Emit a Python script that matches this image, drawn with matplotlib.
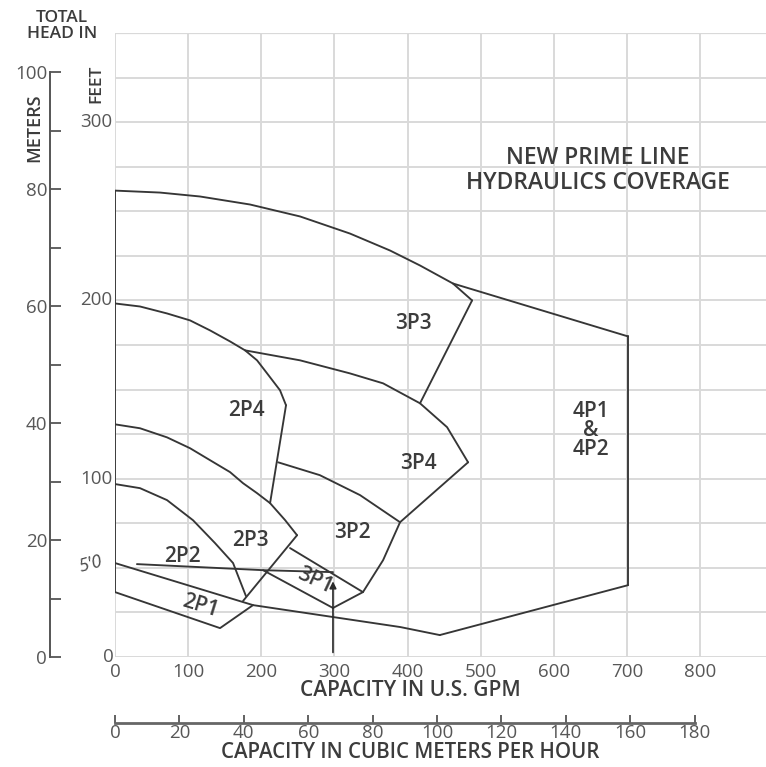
import matplotlib
matplotlib.use("Agg")
import matplotlib.pyplot as plt

W, H = 766, 767
FONT = ["Open Sans", "DejaVu Sans"]
TXT = "#3c3c3c"
TICK = "#575757"
LINE = "#363636"
GRID = "#d9d9d9"

# ---------------- data (GPM, feet) ----------------
left_gpm = [0, 0]
left_ft = [261.6, 36.4]

top3p3_gpm = [0, 61.5, 116.2, 184.6, 253, 321.3, 376, 417, 462, 488.2]
top3p3_ft = [261.6, 260.5, 258.3, 253.8, 247.1, 237.5, 228, 219.6, 209.5, 200]

right3p3_gpm = [488.2, 417]
right3p3_ft = [200, 142.3]

top4p1_gpm = [462, 701.5]
top4p1_ft = [209.5, 179.8]

right4p1_gpm = [701.5, 701.5]
right4p1_ft = [179.8, 40.3]

bottom4p1_gpm = [701.5, 444]
bottom4p1_ft = [40.3, 12.3]

lower_gpm = [0, 188.7, 390, 444]
lower_ft = [52.7, 29.1, 16.8, 12.3]

bottom2p1_gpm = [0, 143.6, 188.7]
bottom2p1_ft = [36.4, 16.2, 29.1]

bottom2p2_gpm = [30, 202.4, 298]
bottom2p2_ft = [52.1, 48.7, 47.6]

top2p4_gpm = [0, 34.2, 71.1, 102.6, 129.9, 157.3, 177.8, 194.2, 207.9, 225.6, 233.8]
top2p4_ft = [198.3, 196.6, 192.7, 188.8, 183.2, 177, 172, 166.4, 159.1, 149.6, 141.2]

right2p4_gpm = [233.8, 212]
right2p4_ft = [141.2, 86.3]

top2p3_gpm = [0, 34.2, 71.1, 102.6, 129.9, 157.3, 175, 194.2, 212, 232.5, 248.9]
top2p3_ft = [130.5, 128.3, 123.2, 117.1, 110.4, 103.7, 97.5, 91.9, 86.3, 76.8, 68.3]

right2p3_gpm = [248.9, 175]
right2p3_ft = [68.3, 31.4]

top2p2_gpm = [0, 34.2, 71.1, 106.7, 136.7, 161.4, 179]
top2p2_ft = [97, 94.7, 88, 76.7, 63.9, 52.7, 34.2]

top3p4_gpm = [177.8, 253, 321, 366.5, 417, 454, 482.7]
top3p4_ft = [172, 166.4, 159.1, 153.5, 142.3, 128.9, 109.2]

right3p4_gpm = [482.7, 424, 389.7]
right3p4_ft = [109.2, 88, 75.6]

top3p2_gpm = [223, 280, 335, 389.7]
top3p2_ft = [109.2, 102, 90.8, 75.6]

right3p2_gpm = [389.7, 366.5, 339, 298]
right3p2_ft = [75.6, 54.3, 36.4, 27.5]

top3p1_gpm = [239.3, 339]
top3p1_ft = [61.1, 36.4]

bottom3p1_gpm = [202.4, 298]
bottom3p1_ft = [48.7, 27.5]

curves = [
    (left_gpm, left_ft), (top3p3_gpm, top3p3_ft), (right3p3_gpm, right3p3_ft),
    (top4p1_gpm, top4p1_ft), (right4p1_gpm, right4p1_ft), (bottom4p1_gpm, bottom4p1_ft),
    (lower_gpm, lower_ft), (bottom2p1_gpm, bottom2p1_ft), (bottom2p2_gpm, bottom2p2_ft),
    (top2p4_gpm, top2p4_ft), (right2p4_gpm, right2p4_ft), (top2p3_gpm, top2p3_ft),
    (right2p3_gpm, right2p3_ft), (top2p2_gpm, top2p2_ft), (top3p4_gpm, top3p4_ft),
    (right3p4_gpm, right3p4_ft), (top3p2_gpm, top3p2_ft), (right3p2_gpm, right3p2_ft),
    (top3p1_gpm, top3p1_ft), (bottom3p1_gpm, bottom3p1_ft),
]

region_labels = ["3P3", "2P4", "4P1\n&\n4P2", "3P4", "2P3", "3P2", "2P2", "2P1", "3P1"]
region_gpm = [408, 180, 651, 415, 185, 324, 92, 116, 273]
region_ft = [187, 138, 127, 108.7, 65.5, 70, 56.6, 28.6, 43]
region_rot = [0, 0, 0, 0, 0, 0, 0, -17, -25]

gpm_ticks = [0, 100, 200, 300, 400, 500, 600, 700, 800]
feet_ticks = [0, 100, 200, 300]
meter_ticks = [0, 20, 40, 60, 80, 100]
m3h_ticks = [0, 20, 40, 60, 80, 100, 120, 140, 160, 180]

GPM_PER_M3H = 4.4029
FT_PER_M = 3.2808

XMAX, YMAX = 890, 350

fig = plt.figure(figsize=(W / 100, H / 100), dpi=100)

def fx(px):
    return px / W

def fy(py):
    return 1 - py / H

ax_left, ax_right = 115, 766
ax_top, ax_bottom = 33, 657
ax = fig.add_axes([fx(ax_left), fy(ax_bottom), fx(ax_right - ax_left), (ax_bottom - ax_top) / H])
ax.set_xlim(0, XMAX)
ax.set_ylim(0, YMAX)
for s in ax.spines.values():
    s.set_visible(False)
ax.set_xticks(range(0, 900, 100))
ax.set_yticks(range(0, 351, 25))
ax.grid(True, color=GRID, lw=1.4, zorder=0)
ax.axhline(YMAX, color=GRID, lw=1.6, zorder=0)
ax.tick_params(length=0, labelleft=False, labelbottom=False)

for gx, gy in curves:
    ax.plot(gx, gy, color=LINE, lw=1.35, zorder=3, solid_capstyle="round",
            solid_joinstyle="round")

for lab, gx, gy, r in zip(region_labels, region_gpm, region_ft, region_rot):
    ax.text(gx, gy, lab, ha="center", va="center", rotation=r, fontsize=15,
            fontweight="semibold", color=TXT, family=FONT, linespacing=0.9, zorder=4)

ax.text(660, 273, "NEW PRIME LINE\nHYDRAULICS COVERAGE", ha="center", va="center",
        fontsize=16.5, fontweight="semibold", color=TXT, family=FONT, linespacing=1.05)

# handwritten marks
ax.annotate("", xy=(298, 44), xytext=(298, 1),
            arrowprops=dict(arrowstyle="-|>", color="#2a2a2a", lw=1.2, mutation_scale=10))
ax.text(-34, 52, "5'0", rotation=15, ha="center", va="center", fontsize=13,
        style="italic", color="#4a4a4a", family=FONT, clip_on=False)

# GPM tick labels
for g in gpm_ticks:
    ax.text(g, -3.5, str(g), ha="center", va="top", fontsize=13.5, color=TICK,
            family=FONT, clip_on=False)
# feet tick labels
for f in feet_ticks:
    ax.text(-4 if f else -2, f, str(f), ha="right", va="center", fontsize=13.5,
            color=TICK, family=FONT, clip_on=False)

# meters axis
axm = fig.add_axes([fx(50), fy(ax_bottom), 0.02, (ax_bottom - ax_top) / H])
axm.set_ylim(0, YMAX / FT_PER_M)
axm.patch.set_alpha(0)
for k in ["top", "right", "bottom"]:
    axm.spines[k].set_visible(False)
axm.spines["left"].set_bounds(0, 100)
axm.spines["left"].set_color("#555555")
axm.spines["left"].set_linewidth(1.4)
axm.set_xticks([])
axm.set_yticks(meter_ticks)
axm.set_yticks(range(10, 100, 20), minor=True)
axm.tick_params(axis="y", which="both", direction="in", length=8, width=1.3,
                color="#555555", labelsize=13.5, labelcolor=TICK, pad=2)
for t in axm.get_yticklabels():
    t.set_family(FONT)

# m3/h axis
axc = fig.add_axes([fx(ax_left), fy(723), fx(ax_right - ax_left), 0.02])
axc.set_xlim(0, XMAX / GPM_PER_M3H)
axc.patch.set_alpha(0)
for k in ["top", "right", "left"]:
    axc.spines[k].set_visible(False)
axc.spines["bottom"].set_bounds(0, 180)
axc.spines["bottom"].set_color("#666666")
axc.spines["bottom"].set_linewidth(2.0)
axc.set_yticks([])
axc.set_xticks(m3h_ticks)
axc.tick_params(axis="x", direction="in", length=6, width=1.3, color="#555555",
                labelsize=13.5, labelcolor=TICK, pad=1)
for t in axc.get_xticklabels():
    t.set_family(FONT)

# titles
fig.text(fx(410), fy(690), "CAPACITY IN U.S. GPM", ha="center", va="center",
         fontsize=15, fontweight="semibold", color=TXT, family=FONT)
fig.text(fx(410), fy(752), "CAPACITY IN CUBIC METERS PER HOUR", ha="center", va="center",
         fontsize=14.8, fontweight="semibold", color=TXT, family=FONT)
fig.text(fx(62), fy(26), "TOTAL\nHEAD IN", ha="center", va="center", fontsize=12.5,
         fontweight="semibold", color=TXT, family=FONT, linespacing=1.0)
fig.text(fx(34), fy(128), "METERS", ha="center", va="center", rotation=90, fontsize=13,
         fontweight="semibold", color=TXT, family=FONT)
fig.text(fx(96), fy(84), "FEET", ha="center", va="center", rotation=90, fontsize=12.5,
         fontweight="semibold", color=TXT, family=FONT)

fig.savefig("out.png", dpi=100, facecolor="white")
